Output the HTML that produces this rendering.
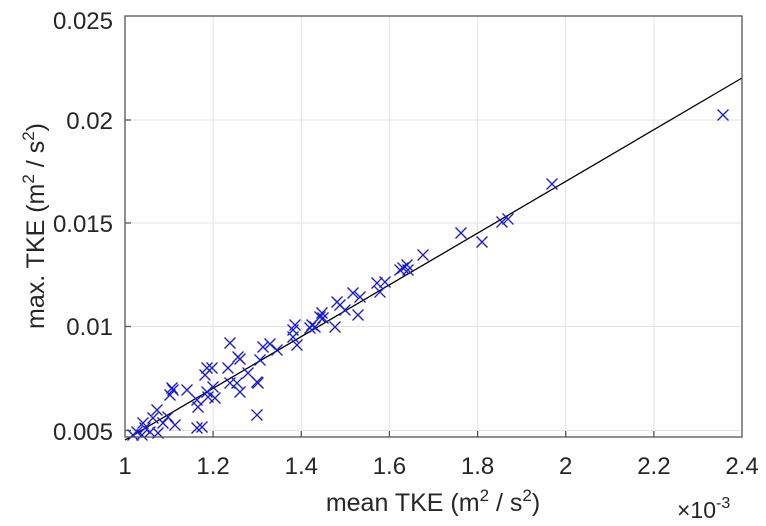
<!DOCTYPE html>
<html><head><meta charset="utf-8"><style>
html,body{margin:0;padding:0;background:#fff;}
svg{display:block;font-family:"Liberation Sans",Arial,sans-serif;}
</style></head><body>
<svg width="766" height="526" viewBox="0 0 766 526" xmlns="http://www.w3.org/2000/svg" xmlns:xlink="http://www.w3.org/1999/xlink">
<defs><path id="m" d="M-5.5 -5.5L5.5 5.5M-5.5 5.5L5.5 -5.5" stroke="#1a1acc" stroke-width="1.3" fill="none"/></defs>
<rect width="766" height="526" fill="#fff"/>
<g stroke="#e3e3e3" stroke-width="1">
<line x1="213.1" y1="16" x2="213.1" y2="437"/><line x1="301.3" y1="16" x2="301.3" y2="437"/>
<line x1="389.4" y1="16" x2="389.4" y2="437"/><line x1="477.6" y1="16" x2="477.6" y2="437"/>
<line x1="565.7" y1="16" x2="565.7" y2="437"/><line x1="653.9" y1="16" x2="653.9" y2="437"/>
<line x1="125" y1="120" x2="742" y2="120"/><line x1="125" y1="223" x2="742" y2="223"/>
<line x1="125" y1="326.5" x2="742" y2="326.5"/><line x1="125" y1="430.5" x2="742" y2="430.5"/>
</g>
<line x1="125" y1="440" x2="742" y2="78" stroke="#000" stroke-width="1.3"/>
<g>
<use href="#m" x="723" y="115"/><use href="#m" x="552" y="184"/><use href="#m" x="461" y="233"/><use href="#m" x="482" y="242"/><use href="#m" x="502" y="222"/><use href="#m" x="508" y="219"/>
<use href="#m" x="423" y="255"/><use href="#m" x="403" y="268"/><use href="#m" x="407" y="265"/><use href="#m" x="408" y="270"/><use href="#m" x="400" y="270"/><use href="#m" x="377" y="283"/>
<use href="#m" x="385" y="282"/><use href="#m" x="380" y="292"/><use href="#m" x="353" y="293"/><use href="#m" x="360" y="297"/><use href="#m" x="337" y="302"/><use href="#m" x="340" y="305"/>
<use href="#m" x="345" y="310"/><use href="#m" x="358" y="315"/><use href="#m" x="322" y="313"/><use href="#m" x="323" y="318"/><use href="#m" x="320" y="317"/><use href="#m" x="335" y="327"/>
<use href="#m" x="312" y="325"/><use href="#m" x="310" y="328"/><use href="#m" x="315" y="327"/><use href="#m" x="295" y="325"/><use href="#m" x="293" y="330"/><use href="#m" x="293" y="337"/>
<use href="#m" x="297" y="345"/>
<use href="#m" x="230" y="343"/><use href="#m" x="238" y="357"/><use href="#m" x="240" y="359"/><use href="#m" x="263" y="347"/><use href="#m" x="270" y="344"/><use href="#m" x="277" y="350"/>
<use href="#m" x="260" y="360"/><use href="#m" x="207" y="368"/><use href="#m" x="212" y="368"/><use href="#m" x="205" y="375"/><use href="#m" x="228" y="368"/><use href="#m" x="230" y="383"/>
<use href="#m" x="237" y="383"/><use href="#m" x="240" y="392"/><use href="#m" x="257" y="382"/><use href="#m" x="258" y="383"/><use href="#m" x="257" y="415"/><use href="#m" x="248" y="373"/>
<use href="#m" x="172" y="388"/><use href="#m" x="173" y="390"/><use href="#m" x="187" y="390"/><use href="#m" x="170" y="395"/><use href="#m" x="197" y="400"/><use href="#m" x="198" y="407"/>
<use href="#m" x="207" y="392"/><use href="#m" x="208" y="397"/><use href="#m" x="215" y="398"/><use href="#m" x="213" y="387"/><use href="#m" x="157" y="410"/><use href="#m" x="168" y="417"/>
<use href="#m" x="153" y="418"/><use href="#m" x="163" y="423"/><use href="#m" x="175" y="425"/><use href="#m" x="143" y="423"/><use href="#m" x="145" y="428"/><use href="#m" x="137" y="432"/>
<use href="#m" x="150" y="432"/><use href="#m" x="158" y="433"/><use href="#m" x="197" y="428"/><use href="#m" x="202" y="427"/><use href="#m" x="133" y="435"/><use href="#m" x="142" y="435"/>
</g>
<rect x="125" y="16" width="617" height="421" fill="none" stroke="#555" stroke-width="1.3"/>
<g stroke="#555" stroke-width="1.3">
<line x1="213.1" y1="437" x2="213.1" y2="431"/><line x1="301.3" y1="437" x2="301.3" y2="431"/>
<line x1="389.4" y1="437" x2="389.4" y2="431"/><line x1="477.6" y1="437" x2="477.6" y2="431"/>
<line x1="565.7" y1="437" x2="565.7" y2="431"/><line x1="653.9" y1="437" x2="653.9" y2="431"/>
<line x1="125" y1="120" x2="131" y2="120"/><line x1="125" y1="223" x2="131" y2="223"/>
<line x1="125" y1="326.5" x2="131" y2="326.5"/><line x1="125" y1="430.5" x2="131" y2="430.5"/>
</g>
<g font-size="24" fill="#262626" text-anchor="middle">
<text x="125" y="474">1</text><text x="213.1" y="474">1.2</text><text x="301.3" y="474">1.4</text>
<text x="389.4" y="474">1.6</text><text x="477.6" y="474">1.8</text><text x="565.7" y="474">2</text>
<text x="653.9" y="474">2.2</text><text x="742" y="474">2.4</text>
</g>
<g font-size="24" fill="#262626" text-anchor="end">
<text x="113" y="29">0.025</text><text x="113" y="129">0.02</text><text x="113" y="232">0.015</text>
<text x="113" y="335">0.01</text><text x="113" y="440">0.005</text>
</g>
<text x="433" y="511" font-size="25" fill="#262626" text-anchor="middle">mean TKE (m<tspan dy="-10" font-size="17">2</tspan><tspan dy="10"> / s</tspan><tspan dy="-10" font-size="17">2</tspan><tspan dy="10">)</tspan></text>
<text transform="translate(44,226) rotate(-90)" font-size="25" fill="#262626" text-anchor="middle">max. TKE (m<tspan dy="-10" font-size="17">2</tspan><tspan dy="10"> / s</tspan><tspan dy="-10" font-size="17">2</tspan><tspan dy="10">)</tspan></text>
<text x="677" y="518" font-size="23" fill="#262626">×10<tspan dy="-10" font-size="16">-3</tspan></text>
</svg>
</body></html>
